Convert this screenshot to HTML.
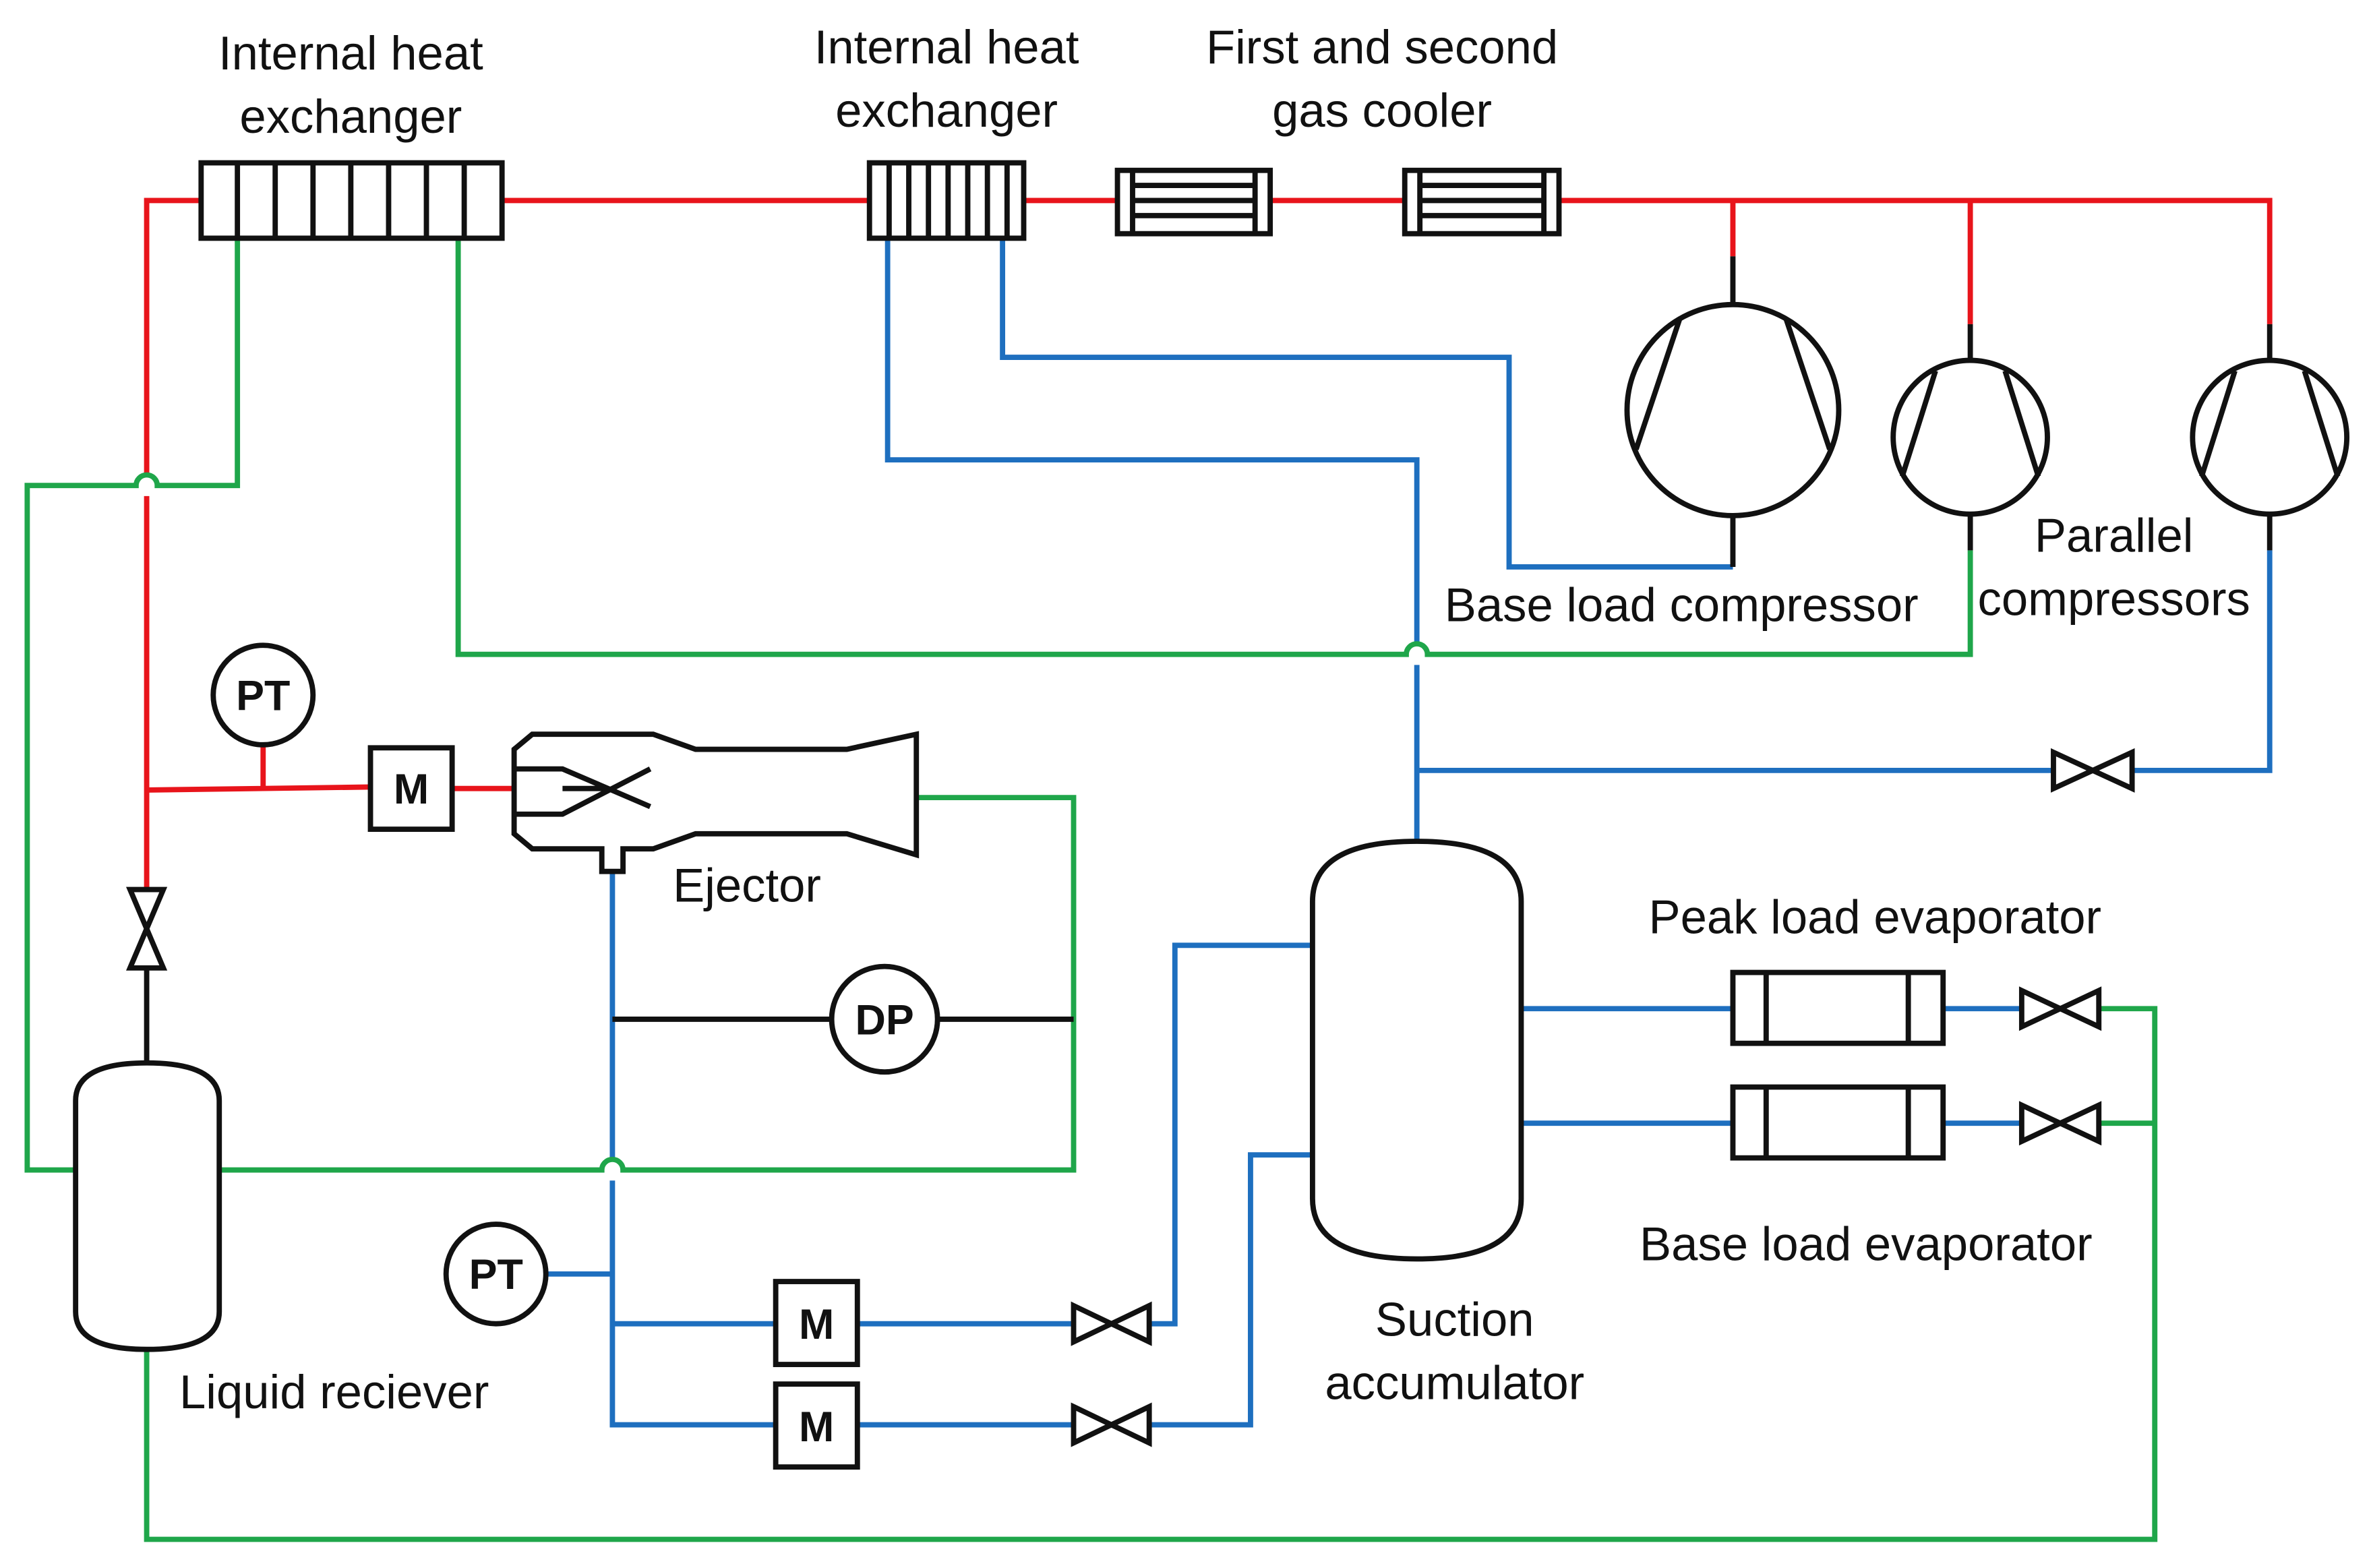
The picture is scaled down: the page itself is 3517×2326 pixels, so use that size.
<!DOCTYPE html>
<html><head><meta charset="utf-8"><style>
html,body{margin:0;padding:0;background:#fff;}
svg{display:block;}
text{font-family:"Liberation Sans",sans-serif;font-size:31.5px;fill:#111;}
.b{font-weight:bold;font-size:28px;}
</style></head><body>
<svg width="3517" height="2326" viewBox="0 0 1568 1040" preserveAspectRatio="none" xmlns="http://www.w3.org/2000/svg">
<g fill="none" stroke-width="3.5" stroke-linejoin="miter">
<g stroke="#e8141b">
<path d="M133,133 H97 V315 M97,329 V590"/>
<path d="M332,133 H575 M677,133 H739 M840,133 H929 M1031,133 H1501 V215 M1146,133 V170 M1303,133 V215"/>
<path d="M97,524 L245,522 M174,494 V523 M299,523 H340"/>
</g>
<g stroke="#1e6fbf">
<path d="M1146,376 H998 V237 H663 V158"/>
<path d="M587,158 V305 H937 V427 M937,441 V558"/>
<path d="M1501,365 V511 H1410 M1358,511 H937"/>
<path d="M405,578 V769 M405,783 V945 H513 M405,878 H513 M361,845 H405"/>
<path d="M567,878 H710 M760,878 H777 V627 H868"/>
<path d="M567,945 H710 M760,945 H827 V766 H868"/>
<path d="M1006,669 H1146 M1285,669 H1337 M1006,745 H1146 M1285,745 H1337"/>
</g>
<g stroke="#1fa64a">
<path d="M157,158 V322 H104 A7,7 0 0 0 90,322 H18 V776 H50"/>
<path d="M303,158 V434 H930 A7,7 0 0 1 944,434 H1303 V365"/>
<path d="M606,529 H710 V776 H412 A7,7 0 0 0 398,776 H145"/>
<path d="M1388,669 H1425 V1021 H97 V895 M1388,745 H1425"/>
</g>
<g stroke="#111">
<rect x="133" y="108" width="199" height="50" fill="#fff"/>
<path d="M157,108V158M182,108V158M207,108V158M232,108V158M257,108V158M282,108V158M307,108V158"/>
<rect x="575" y="108" width="102" height="50" fill="#fff"/>
<path d="M588,108V158M601,108V158M614,108V158M627,108V158M640,108V158M653,108V158M666,108V158"/>
<rect x="739" y="113" width="101" height="42" fill="#fff"/>
<path d="M749,113V155M830,113V155M749,123H830M749,133H830M749,143H830"/>
<rect x="929" y="113" width="102" height="42" fill="#fff"/>
<path d="M939,113V155M1021,113V155M939,123H1021M939,133H1021M939,143H1021"/>
<path d="M1146,170V203 M1146,342V376 M1303,215V240 M1303,341V365 M1501,215V240 M1501,341V365"/>
<circle cx="1146" cy="272" r="70"/>
<path d="M1111,211 L1082,298 M1181,211 L1210,298"/>
<circle cx="1303" cy="290" r="51"/>
<path d="M1280,246 L1258,316 M1326,246 L1348,316"/>
<circle cx="1501" cy="290" r="51"/>
<path d="M1478,246 L1456,316 M1524,246 L1546,316"/>
<circle cx="174" cy="461" r="33"/>
<rect x="245" y="496" width="54" height="54"/>
<path d="M340,497 L352,487 L432,487 L460,497 L560,497 L606,487 L606,567 L560,553 L460,553 L432,563 L412,563 L412,578 L398,578 L398,563 L352,563 L340,553 Z" fill="#fff"/>
<path d="M340,510 L372,510 L430,535 M340,540 L372,540 L430,510 M372,523 L400,523"/>
<path d="M86,590 L108,590 L86,642 L108,642 Z"/>
<path d="M97,642V705"/>
<path d="M50,730 Q50,705 97,705 Q145,705 145,730 V870 Q145,895 97,895 Q50,895 50,870 Z" fill="#fff"/>
<path d="M405,676 H550 M620,676 H710"/>
<circle cx="585" cy="676" r="35" fill="#fff"/>
<circle cx="328" cy="845" r="33" fill="#fff"/>
<rect x="513" y="850" width="54" height="55" fill="#fff"/>
<rect x="513" y="918" width="54" height="55" fill="#fff"/>
<path d="M710,866 L760,890 L760,866 L710,890 Z"/>
<path d="M710,933 L760,957 L760,933 L710,957 Z"/>
<path d="M1358,499 L1410,523 L1410,499 L1358,523 Z"/>
<path d="M1337,657 L1388,681 L1388,657 L1337,681 Z"/>
<path d="M1337,733 L1388,757 L1388,733 L1337,757 Z"/>
<path d="M868,598 Q868,558 937,558 Q1006,558 1006,598 V795 Q1006,835 937,835 Q868,835 868,795 Z" fill="#fff"/>
<rect x="1146" y="645" width="139" height="47" fill="#fff"/>
<path d="M1168,645V692M1262,645V692"/>
<rect x="1146" y="721" width="139" height="47" fill="#fff"/>
<path d="M1168,721V768M1262,721V768"/>
</g>
</g>
<text x="232" y="46" text-anchor="middle">Internal heat</text>
<text x="232" y="88" text-anchor="middle">exchanger</text>
<text x="626" y="42" text-anchor="middle">Internal heat</text>
<text x="626" y="84" text-anchor="middle">exchanger</text>
<text x="914" y="42" text-anchor="middle">First and second</text>
<text x="914" y="84" text-anchor="middle">gas cooler</text>
<text x="1112" y="412" text-anchor="middle">Base load compressor</text>
<text x="1398" y="366" text-anchor="middle">Parallel</text>
<text x="1398" y="408" text-anchor="middle">compressors</text>
<text x="494" y="598" text-anchor="middle">Ejector</text>
<text x="1240" y="619" text-anchor="middle">Peak load evaporator</text>
<text x="1234" y="836" text-anchor="middle">Base load evaporator</text>
<text x="962" y="886" text-anchor="middle">Suction</text>
<text x="962" y="928" text-anchor="middle">accumulator</text>
<text x="221" y="934" text-anchor="middle">Liquid reciever</text>
<text class="b" x="174" y="471" text-anchor="middle">PT</text>
<text class="b" x="272" y="533" text-anchor="middle">M</text>
<text class="b" x="585" y="686" text-anchor="middle">DP</text>
<text class="b" x="328" y="855" text-anchor="middle">PT</text>
<text class="b" x="540" y="888" text-anchor="middle">M</text>
<text class="b" x="540" y="956" text-anchor="middle">M</text>
</svg>
</body></html>
